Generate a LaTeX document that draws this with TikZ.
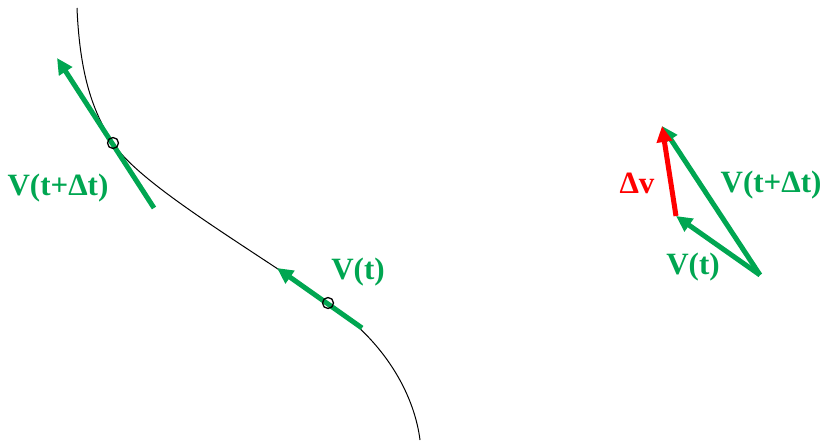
\documentclass[tikz,border=0pt]{standalone}
\usepackage{fontspec}
\setmainfont{Liberation Serif}
\usetikzlibrary{arrows.meta}
\definecolor{vgreen}{RGB}{0,166,81}
\definecolor{vred}{RGB}{255,0,0}
\tikzset{
  vec/.style={line width=5pt, -{Triangle[length=16pt,width=15pt]}},
  lbl/.style={font=\fontsize{31}{31}\selectfont\bfseries, inner sep=0pt},
  pt/.style={draw=black, line width=1.3pt, circle, minimum size=11pt, inner sep=0pt},
}
\begin{document}
\begin{tikzpicture}[x=1pt,y=-1pt]
\useasboundingbox (0,0) rectangle (821,441);
% trajectory
\coordinate (c0) at (77,8);
\coordinate (c1) at (113,143);
\coordinate (c2) at (328,303);
\coordinate (c3) at (420,440);
\draw[black, line width=1pt] (c0) .. controls (80,80) and (95,115) .. (c1)
  .. controls (140,185) and (250,248) .. (c2)
  .. controls (390,345) and (415,400) .. (c3);
% tangent vectors on trajectory
\coordinate (t1) at (154,208);
\coordinate (h1) at (57,58);
\coordinate (t2) at (362,328);
\coordinate (h2) at (277,268);
\draw[vec, vgreen] (t1) -- (h1);
\draw[vec, vgreen] (t2) -- (h2);
\node[pt] (p1) at (c1) {};
\node[pt] (p2) at (c2) {};
\node[lbl, text=vgreen] (l1) at (58,188) {V(t+Δt)};
\node[lbl, text=vgreen] (l2) at (358,272) {V(t)};
% vector triangle
\coordinate (O) at (760,275);
\coordinate (A) at (676,216);
\coordinate (B) at (662,126);
\draw[vec, vgreen] (O) -- (B);
\draw[vec, vred] (A) -- (B);
\draw[vec, vgreen] (O) -- (A);
\node[lbl, text=vred] (l3) at (637,183) {Δv};
\node[lbl, text=vgreen] (l4) at (771,185) {V(t+Δt)};
\node[lbl, text=vgreen] (l5) at (693,267) {V(t)};
\end{tikzpicture}
\end{document}
